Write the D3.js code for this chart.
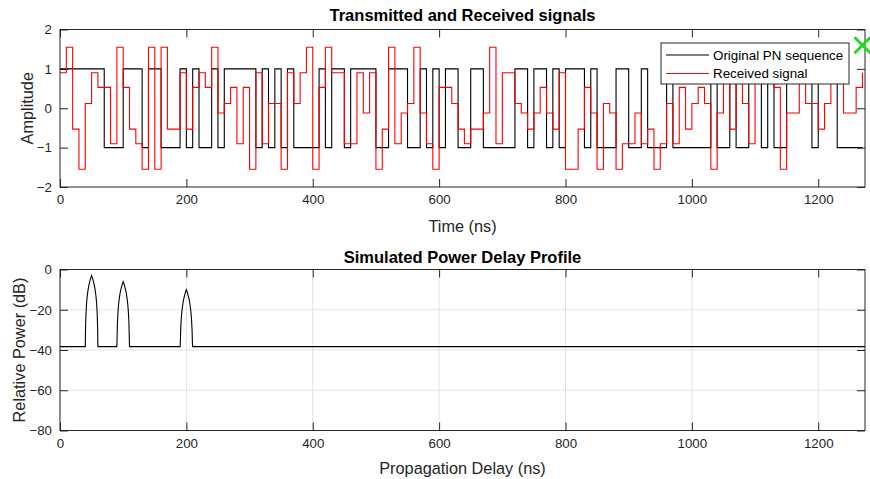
<!DOCTYPE html>
<html><head><meta charset="utf-8">
<script src="https://cdn.jsdelivr.net/npm/d3@7"></script>
<style>
body{margin:0;background:#fff;}
svg{display:block;font-family:"Liberation Sans",Arial,Helvetica,sans-serif;}
</style></head><body>
<svg id="chart" width="870" height="479"></svg>
<script>
// ---- data ----
const pnChips = [
 1,1,1,1,1,1,1,-1,-1,-1,
 1,1,1,-1,1,1,-1,-1,-1,1,
 -1,1,-1,-1,1,-1,1,1,1,1,
 1,-1,1,-1,1,-1,1,-1,-1,-1,
 -1,1,-1,1,1,-1,1,1,1,1,
 -1,-1,1,1,1,-1,-1,1,-1,1,
 -1,1,1,-1,-1,1,1,-1,-1,-1,
 -1,-1,1,1,-1,1,1,-1,1,-1,
 1,1,1,-1,1,-1,-1,-1,1,1,
 -1,-1,1,-1,-1,-1,1,-1,-1,-1,
 -1,-1,-1,1,-1,-1,1,-1,-1,1,
 1,-1,1,-1,-1,1,1,1,1,-1,
 1,1,1,-1,-1,-1,-1
];
const receivedSignal = [
 0.90,1.55,-0.53,-1.55,0.12,0.90,0.53,0.53,-0.90,1.55,
 0.53,-0.53,-0.90,-1.55,1.55,-1.55,1.55,-0.53,-0.53,0.90,
 -0.53,0.53,0.90,0.53,1.55,-0.12,0.12,0.53,-0.90,0.53,
 -1.55,0.90,-0.90,0.12,0.12,-1.55,0.90,0.12,0.90,1.55,
 -1.55,0.53,1.55,0.90,0.90,-0.90,-0.90,0.90,-0.12,0.90,
 -1.55,-0.53,1.55,-0.90,-0.12,0.12,1.55,-0.12,-0.90,-1.55,
 0.53,0.53,0.12,-0.53,-0.90,-0.53,-0.53,-0.12,1.55,-0.90,
 0.90,0.90,0.12,-0.12,-0.53,-0.12,0.53,-0.12,-0.53,0.90,
 -1.55,-1.55,-0.53,0.53,-0.12,-1.55,0.12,-0.12,-1.55,-0.90,
 -0.90,-0.12,-0.90,-0.53,-1.55,-0.90,0.12,-0.90,0.53,-0.53,
 0.12,0.53,0.12,-1.55,-0.12,0.90,-0.53,1.55,0.12,-0.90,
 1.55,1.55,1.55,0.53,-1.55,-0.12,-0.12,1.55,0.12,0.12,
 -0.53,0.12,1.55,0.90,-0.12,-0.12,0.53,0.90
];
const chipNs = 10;
const timeMax = 1274;
const timeTicks = [0,200,400,600,800,1000,1200];
const amplitudeTicks = [-2,-1,0,1,2];
const powerTicks = [-80,-60,-40,-20,0];
const pathDelays = [50,100,200];
const pathPeakDb = [-3.0,-6.0,-10.0];
const floorDb = -38.3;
const pulseOffsets = [-10,-9.6,-9,-8,-7,-6,-5,-4,-3,-2,-1,0,1,2,3,4,5,6,7,8,9,9.6,10];
const pulseRelDb = [-60,-27,-20,-14,-10.5,-8,-6,-4.4,-3.1,-1.9,-0.9,0,-0.9,-1.9,-3.1,-4.4,-6,-8,-10.5,-14,-20,-27,-60];
const markerPoint = [1270, 1.6];
const legendLabels = ["Original PN sequence","Received signal"];
const seriesColors = ["#000000","#ff0000"];

// ---- layout ----
const L = 60, R = 865;
const top1 = {t:29.5, b:187};
const top2 = {t:269.5, b:430.5};
const ink = "#262626";
const labelFs = "16.3px", titleFs = "16.5px", tickFs = "13.3px";
const svg = d3.select("#chart");

const x = d3.scaleLinear().domain([0,timeMax]).range([L,R]);
const y1 = d3.scaleLinear().domain([-2,2]).range([top1.b, top1.t]);
const y2 = d3.scaleLinear().domain([-80,0]).range([top2.b, top2.t]);

function styleAxis(g){
  g.select(".domain").remove();
  g.selectAll(".tick line").attr("stroke", ink).attr("stroke-width",1);
  g.selectAll(".tick text").attr("fill", ink).attr("font-size", tickFs).attr("font-family", null);
}

function drawFrame(yScale, box, yTicks, grid){
  if(grid){
    const gg = svg.append("g");
    timeTicks.forEach(t=>{ gg.append("line").attr("x1",x(t)).attr("x2",x(t)).attr("y1",box.t).attr("y2",box.b).attr("stroke","#e3e3e3").attr("stroke-width",1); });
    yTicks.forEach(v=>{ gg.append("line").attr("x1",L).attr("x2",R).attr("y1",yScale(v)).attr("y2",yScale(v)).attr("stroke","#e3e3e3").attr("stroke-width",1); });
  }
  svg.append("g").attr("transform",`translate(0,${box.b})`)
    .call(d3.axisBottom(x).tickValues(timeTicks).tickSizeInner(-8).tickSizeOuter(0).tickPadding(8).tickFormat(d3.format("d")))
    .call(styleAxis);
  svg.append("g").attr("transform",`translate(0,${box.t})`)
    .call(d3.axisTop(x).tickValues(timeTicks).tickSizeInner(-8).tickSizeOuter(0).tickFormat(""))
    .call(styleAxis);
  svg.append("g").attr("transform",`translate(${L},0)`)
    .call(d3.axisLeft(yScale).tickValues(yTicks).tickSizeInner(-8).tickSizeOuter(0).tickPadding(8).tickFormat(d3.format("d")))
    .call(styleAxis);
  svg.append("g").attr("transform",`translate(${R},0)`)
    .call(d3.axisRight(yScale).tickValues(yTicks).tickSizeInner(-8).tickSizeOuter(0).tickFormat(""))
    .call(styleAxis);
}

// ---- top plot ----
drawFrame(y1, top1, amplitudeTicks, false);
const stepLine = d3.line().x(d=>x(d[0])).y(d=>y1(d[1])).curve(d3.curveStepAfter);
const pnPts = pnChips.map((v,i)=>[i*chipNs, v]);
pnPts.push([pnChips.length*chipNs, pnChips[pnChips.length-1]]);
svg.append("path").attr("d", stepLine(pnPts)).attr("fill","none").attr("stroke",seriesColors[0]).attr("stroke-width",1.1);
const rxPts = receivedSignal.map((v,i)=>[i*chipNs, v]);
svg.append("path").attr("d", stepLine(rxPts)).attr("fill","none").attr("stroke",seriesColors[1]).attr("stroke-width",1.1);
svg.append("rect").attr("x",L).attr("y",top1.t).attr("width",R-L).attr("height",top1.b-top1.t).attr("fill","none").attr("stroke",ink).attr("stroke-width",1);

// legend
const lg = svg.append("g");
lg.append("rect").attr("x",661).attr("y",43).attr("width",188).attr("height",41).attr("fill","#fff").attr("stroke",ink).attr("stroke-width",1);
legendLabels.forEach((lab,i)=>{
  const yy = 55 + i*18.5;
  lg.append("line").attr("x1",666).attr("x2",709).attr("y1",yy).attr("y2",yy).attr("stroke",seriesColors[i]).attr("stroke-width",1.1);
  lg.append("text").attr("x",713).attr("y",yy).attr("dy","0.35em").attr("font-size","13.4px").attr("fill","#000").text(lab);
});

// green marker
const mx = x(markerPoint[0]), my = y1(markerPoint[1]);
svg.append("path").attr("d",`M${mx-8},${my-8}L${mx+8},${my+8}M${mx-8},${my+8}L${mx+8},${my-8}`)
  .attr("stroke","#1fdc1f").attr("stroke-width",3).attr("fill","none");

// titles / labels
svg.append("text").attr("x",(L+R)/2).attr("y",21).attr("text-anchor","middle").attr("font-weight","bold").attr("font-size",titleFs).attr("fill","#000").text("Transmitted and Received signals");
svg.append("text").attr("x",(L+R)/2).attr("y",232).attr("text-anchor","middle").attr("font-size",labelFs).attr("fill",ink).text("Time (ns)");
svg.append("text").attr("transform",`translate(32.5,${(top1.t+top1.b)/2}) rotate(-90)`).attr("text-anchor","middle").attr("font-size",labelFs).attr("fill",ink).text("Amplitude");

// ---- bottom plot ----
drawFrame(y2, top2, powerTicks, true);
const pdpPts = [[0, floorDb]];
pathDelays.forEach((d,k)=>{
  pulseOffsets.forEach((o,j)=>{ pdpPts.push([d+o, Math.max(floorDb, pathPeakDb[k]+pulseRelDb[j])]); });
});
pdpPts.push([timeMax, floorDb]);
const pdpLine = d3.line().x(d=>x(d[0])).y(d=>y2(d[1]));
svg.append("path").attr("d", pdpLine(pdpPts)).attr("fill","none").attr("stroke","#000").attr("stroke-width",1.1);
svg.append("rect").attr("x",L).attr("y",top2.t).attr("width",R-L).attr("height",top2.b-top2.t).attr("fill","none").attr("stroke",ink).attr("stroke-width",1);

svg.append("text").attr("x",(L+R)/2).attr("y",263).attr("text-anchor","middle").attr("font-weight","bold").attr("font-size",titleFs).attr("fill","#000").text("Simulated Power Delay Profile");
svg.append("text").attr("x",(L+R)/2).attr("y",474).attr("text-anchor","middle").attr("font-size",labelFs).attr("fill",ink).text("Propagation Delay (ns)");
svg.append("text").attr("transform",`translate(25,${(top2.t+top2.b)/2}) rotate(-90)`).attr("text-anchor","middle").attr("font-size",labelFs).attr("fill",ink).text("Relative Power (dB)");
</script>
</body></html>
